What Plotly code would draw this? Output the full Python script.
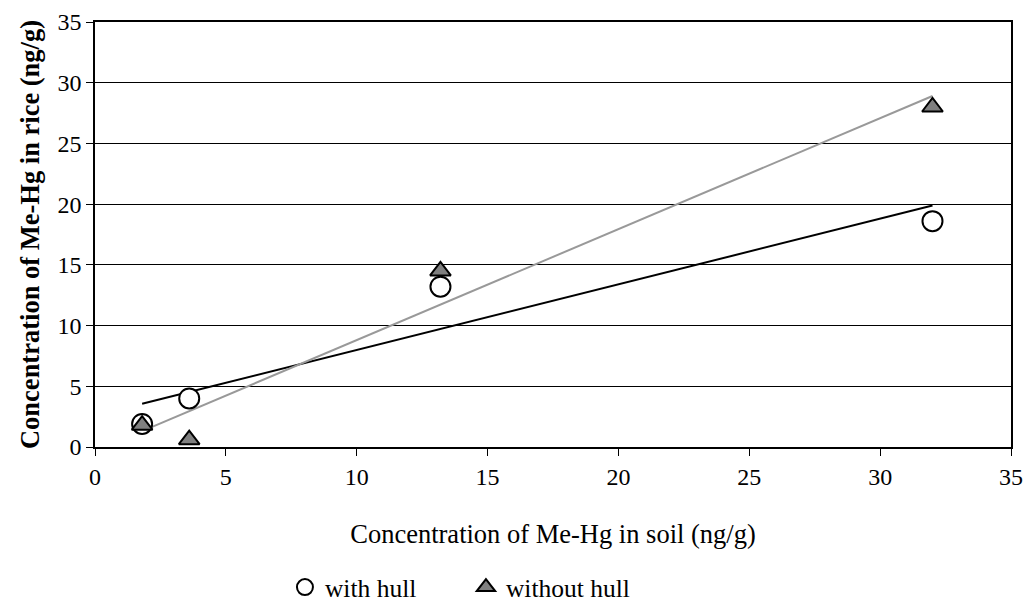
import numpy as np
import plotly.graph_objects as go

soil = [1.8, 3.6, 13.2, 32.0]
with_hull = [1.9, 4.0, 13.2, 18.6]
without_hull = [1.8, 0.6, 14.5, 28.0]

FONT = "Liberation Serif, Times New Roman, serif"

fig = go.Figure()

# trend lines (linear least squares fits of each series)
for ys, col in [(with_hull, "black"), (without_hull, "#999999")]:
    k, b = np.polyfit(soil, ys, 1)
    xs = [min(soil), max(soil)]
    fig.add_trace(go.Scatter(x=xs, y=[k * v + b for v in xs], mode="lines",
                             line=dict(color=col, width=2), showlegend=False,
                             hoverinfo="skip"))

fig.add_trace(go.Scatter(x=soil, y=with_hull, mode="markers", name="with hull",
                         marker=dict(symbol="circle", size=20, color="white",
                                     line=dict(color="black", width=2))))
fig.add_trace(go.Scatter(x=soil, y=without_hull, mode="markers", name="without hull",
                         marker=dict(symbol="triangle-up", size=18, color="#808080",
                                     line=dict(color="black", width=2))))

fig.update_layout(
    width=1025, height=611,
    margin=dict(l=95, r=14, t=22, b=164),
    plot_bgcolor="white", paper_bgcolor="white",
    font=dict(family=FONT, size=22, color="black"),
    legend=dict(orientation="h", xref="container", yref="container",
                x=0.278, xanchor="left", y=0.0, yanchor="bottom",
                font=dict(family=FONT, size=25.5), itemwidth=30, tracegroupgap=0,
                entrywidth=136, entrywidthmode="pixels"),
    xaxis=dict(range=[0, 35], dtick=5, showgrid=False, showline=True, linecolor="black",
               linewidth=1.5, mirror=True, ticks="outside", ticklen=7, tickcolor="black",
               zeroline=False, automargin=False, tickfont=dict(size=24),
               title=dict(text="Concentration of Me-Hg in soil (ng/g)", standoff=36,
                          font=dict(family=FONT, size=26.5))),
    yaxis=dict(range=[0, 35], dtick=5, showgrid=True, gridcolor="black", gridwidth=1,
               showline=True, linecolor="black", linewidth=1.5, mirror=True,
               ticks="outside", ticklen=7, tickcolor="black", zeroline=False,
               automargin=False, tickfont=dict(size=24),
               title=dict(text="<b>Concentration of Me-Hg in rice (ng/g)</b>", standoff=10,
                          font=dict(family=FONT, size=26.5))),
)

fig.write_html("out.html")
